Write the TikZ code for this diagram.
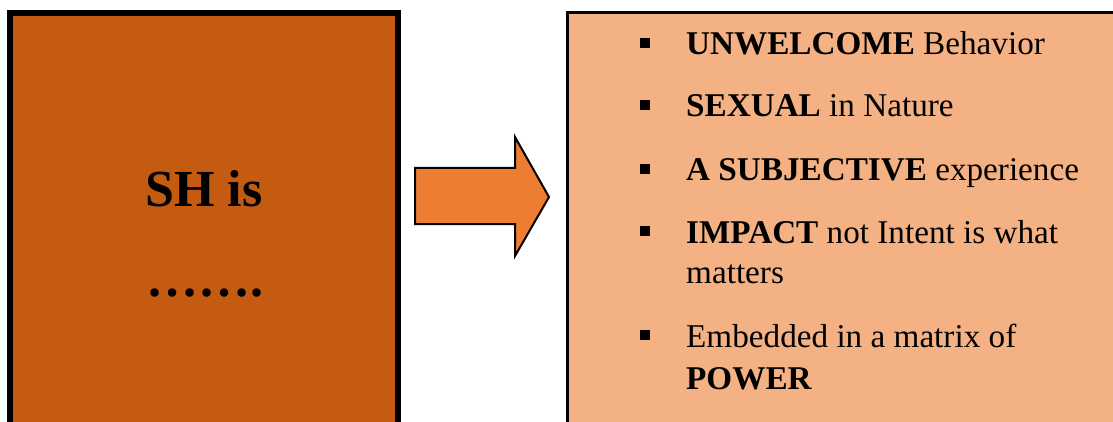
\documentclass[tikz,border=0pt]{standalone}
\usepackage{fontspec}
\setmainfont{Liberation Serif}
\definecolor{darkorange}{HTML}{C55A11}
\definecolor{midorange}{HTML}{ED7D31}
\definecolor{lightorange}{HTML}{F4B183}
\tikzset{
  itemtext/.style={anchor=base west, inner sep=0pt, font=\fontsize{33.2}{40}\selectfont},
  bulletsq/.style={fill=black, minimum size=10pt, inner sep=0pt, rectangle},
  bigtext/.style={anchor=base, inner sep=0pt, font=\fontsize{52}{60}\selectfont\bfseries}
}
\begin{document}
\begin{tikzpicture}[x=1pt,y=-1pt]
  \useasboundingbox (0,0) rectangle (1113,422);
  \clip (0,0) rectangle (1113,422);

  % left box
  \draw[line width=6pt, fill=darkorange] (10,13) rectangle (398,445);
  \node[bigtext] (title) at (204,207) {SH is};
  \node[bigtext] (dots) at (205,296) {…….};

  % block arrow
  \draw[line width=2pt, line join=miter, fill=midorange]
    (415,168) -- (515,168) -- (515,137) -- (549,197) -- (515,256) -- (515,224) -- (415,224) -- cycle;

  % right box
  \draw[line width=3pt, fill=lightorange] (567.5,12.5) rectangle (1135,445);

  \node[bulletsq] (b1) at (645,43) {};
  \node[itemtext] (t1) at (686,55) {\textbf{UNWELCOME} Behavior};
  \node[bulletsq] (b2) at (645,105) {};
  \node[itemtext] (t2) at (686,117) {\textbf{SEXUAL} in Nature};
  \node[bulletsq] (b3) at (645,169) {};
  \node[itemtext] (t3) at (686,181) {\textbf{A SUBJECTIVE} experience};
  \node[bulletsq] (b4) at (645,231) {};
  \node[itemtext] (t4) at (686,243) {\textbf{IMPACT} not Intent is what};
  \node[itemtext] (t4b) at (686,283) {matters};
  \node[bulletsq] (b5) at (645,335) {};
  \node[itemtext] (t5) at (686,347) {Embedded in a matrix of};
  \node[itemtext] (t5b) at (686,389) {\textbf{POWER}};
\end{tikzpicture}
\end{document}
